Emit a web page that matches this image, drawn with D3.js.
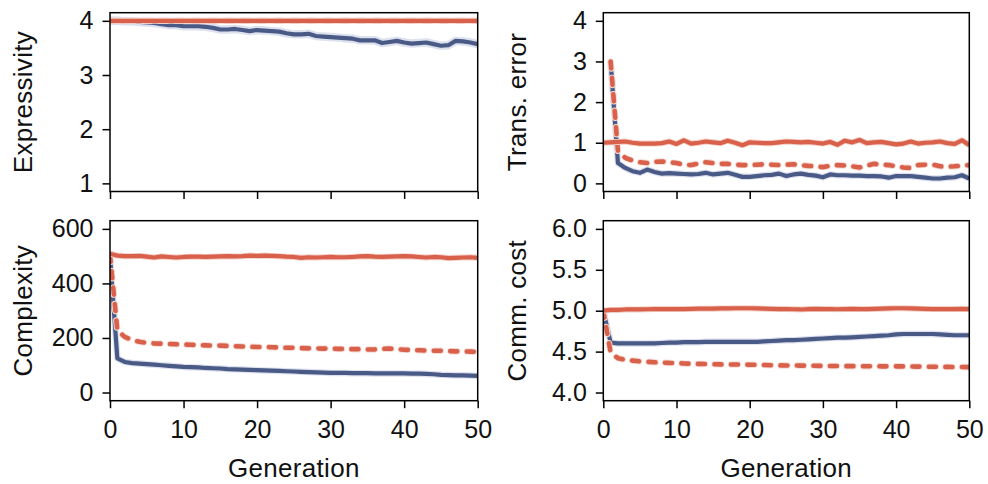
<!DOCTYPE html>
<html><head><meta charset="utf-8">
<script src="https://cdn.jsdelivr.net/npm/d3@7"></script>
<style>
html,body{margin:0;padding:0;background:#fff;}
text{font-family:"Liberation Sans","Helvetica Neue",Helvetica,Arial,sans-serif;fill:#111;}
</style></head>
<body><svg id="c" width="988" height="484"></svg>
<script>
const generations = d3.range(0, 51);
const xTicks = [0, 10, 20, 30, 40, 50];

// Expressivity
const exprBlue = [4.00,4.00,3.99,3.99,3.98,3.97,3.96,3.94,3.92,3.92,3.90,3.90,3.90,3.89,3.87,3.84,3.84,3.85,3.83,3.81,3.83,3.82,3.81,3.80,3.77,3.75,3.75,3.76,3.72,3.71,3.70,3.69,3.68,3.67,3.64,3.64,3.64,3.59,3.61,3.63,3.60,3.58,3.59,3.60,3.57,3.54,3.55,3.63,3.62,3.60,3.57];
const exprRed = [4,4,4,4,4,4,4,4,4,4,4,4,4,4,4,4,4,4,4,4,4,4,4,4,4,4,4,4,4,4,4,4,4,4,4,4,4,4,4,4,4,4,4,4,4,4,4,4,4,4,4];
const exprRedDash = [4,4,4,4,4,4,4,4,4,4,4,4,4,4,4,4,4,4,4,4,4,4,4,4,4,4,4,4,4,4,4,4,4,4,4,4,4,4,4,4,4,4,4,4,4,4,4,4,4,4,4];
const exprTicks = [1, 2, 3, 4];

// Transmission error
const transBlue = [null,3.00,0.50,0.38,0.30,0.26,0.34,0.28,0.24,0.25,0.24,0.23,0.22,0.23,0.26,0.22,0.24,0.26,0.21,0.16,0.16,0.18,0.20,0.21,0.24,0.18,0.22,0.24,0.21,0.19,0.15,0.22,0.20,0.20,0.19,0.19,0.18,0.18,0.17,0.14,0.18,0.18,0.18,0.16,0.14,0.12,0.12,0.14,0.15,0.20,0.12];
const transRed = [1.00,1.01,1.02,1.03,1.00,0.98,0.98,0.98,0.99,1.03,0.97,1.06,0.98,1.00,1.03,1.01,0.99,1.05,1.00,0.94,1.01,1.00,0.99,0.99,1.01,1.03,1.02,1.01,1.02,1.00,0.98,1.02,0.95,1.05,1.01,1.07,0.99,1.01,1.02,0.99,0.96,0.98,1.03,0.98,1.00,1.01,1.03,0.99,0.97,1.06,0.94];
const transRedDash = [null,3.00,0.79,0.63,0.56,0.52,0.50,0.53,0.54,0.52,0.50,0.46,0.45,0.49,0.52,0.50,0.48,0.48,0.46,0.45,0.45,0.46,0.47,0.46,0.45,0.46,0.47,0.45,0.43,0.42,0.40,0.43,0.45,0.44,0.42,0.39,0.44,0.48,0.46,0.45,0.42,0.39,0.38,0.45,0.46,0.46,0.42,0.41,0.42,0.44,0.45];
const transTicks = [0, 1, 2, 3, 4];

// Complexity
const complBlue = [500,125,112,108,106,104,102,100,98,96,94,93,92,90,89,88,86,85,84,83,82,81,80,79,78,77,76,75,74,73,72,72,72,71,71,71,70,70,70,70,70,69,69,68,67,65,64,63,63,62,61];
const complRed = [509,502,500,500,501,498,495,499,497,495,497,498,498,497,498,499,500,499,500,502,501,502,501,500,498,497,494,496,495,496,497,496,496,497,499,500,498,497,498,499,500,499,497,495,497,496,493,494,495,496,494];
const complRedDash = [505,228,204,192,186,182,180,179,178,177,176,175,174,173,172,172,171,170,169,168,167,167,166,165,164,164,163,162,162,161,161,160,160,159,159,158,158,160,161,159,157,156,155,154,153,153,152,151,151,150,149];
const complTicks = [0, 200, 400, 600];

// Communicative cost
const costBlue = [5.00,4.61,4.60,4.60,4.60,4.60,4.60,4.60,4.605,4.61,4.61,4.615,4.615,4.615,4.62,4.62,4.62,4.62,4.62,4.62,4.62,4.62,4.625,4.63,4.635,4.64,4.64,4.645,4.65,4.655,4.66,4.665,4.67,4.67,4.675,4.68,4.685,4.69,4.695,4.70,4.71,4.715,4.715,4.715,4.715,4.715,4.71,4.705,4.70,4.70,4.70];
const costRed = [5.00,5.01,5.01,5.015,5.015,5.016,5.018,5.02,5.02,5.02,5.02,5.02,5.022,5.025,5.025,5.025,5.028,5.028,5.03,5.03,5.03,5.028,5.025,5.022,5.02,5.02,5.018,5.015,5.02,5.022,5.02,5.02,5.018,5.02,5.022,5.02,5.02,5.022,5.025,5.028,5.03,5.03,5.028,5.025,5.022,5.02,5.02,5.02,5.02,5.022,5.02];
const costRedDash = [5.00,4.49,4.42,4.40,4.39,4.38,4.375,4.37,4.366,4.362,4.36,4.355,4.352,4.35,4.348,4.345,4.344,4.343,4.342,4.341,4.34,4.338,4.336,4.334,4.332,4.33,4.33,4.329,4.328,4.327,4.325,4.325,4.324,4.323,4.322,4.322,4.321,4.321,4.32,4.32,4.32,4.319,4.318,4.317,4.316,4.315,4.314,4.313,4.312,4.311,4.31];
const costTicks = [4.0, 4.5, 5.0, 5.5, 6.0];

const BLUE = "#4a5a87", RED = "#d9604a";

const panels = [
  {x0:110, x1:477.7, y0:12.7, y1:191.5, dom:[0.85,4.15], ticks:exprTicks, fmt:d3.format("d"), label:"Expressivity", lx:32, blue:exprBlue, red:exprRed, dash:exprRedDash, xlabels:false, halo:true},
  {x0:603.3, x1:969.3, y0:12.7, y1:191.5, dom:[-0.2,4.2], ticks:transTicks, fmt:d3.format("d"), label:"Trans. error", lx:526, blue:transBlue, red:transRed, dash:transRedDash, xlabels:false, halo:false},
  {x0:110, x1:477.7, y0:220.7, y1:400.7, dom:[-30,630], ticks:complTicks, fmt:d3.format("d"), label:"Complexity", lx:32, blue:complBlue, red:complRed, dash:complRedDash, xlabels:true, halo:false},
  {x0:603.3, x1:969.3, y0:220.7, y1:400.7, dom:[3.9,6.1], ticks:costTicks, fmt:d3.format(".1f"), label:"Comm. cost", lx:526, blue:costBlue, red:costRed, dash:costRedDash, xlabels:true, halo:false}
];

const svg = d3.select("#c");
const FS = 25, LFS = 26;
const FF = '"Liberation Sans",Helvetica,Arial,sans-serif';

panels.forEach((p, i) => {
  const x = d3.scaleLinear().domain([0,50]).range([p.x0, p.x1]);
  const y = d3.scaleLinear().domain(p.dom).range([p.y1, p.y0]);
  const clipId = "clip" + i;
  svg.append("clipPath").attr("id", clipId).append("rect")
    .attr("x", p.x0).attr("y", p.y0).attr("width", p.x1 - p.x0).attr("height", p.y1 - p.y0);
  const g = svg.append("g").attr("clip-path", `url(#${clipId})`);
  const line = arr => d3.line().defined(d => arr[d] !== null).x(d => x(d)).y(d => y(arr[d]))(generations);

  g.append("path").attr("d", line(p.blue)).attr("fill","none")
    .attr("stroke", "#dde1ee").attr("stroke-width", p.halo ? 8.5 : 6.5).attr("stroke-linejoin","round");
  g.append("path").attr("d", line(p.blue)).attr("fill","none")
    .attr("stroke", BLUE).attr("stroke-width", 4.2).attr("stroke-linejoin","round");
  g.append("path").attr("d", line(p.dash)).attr("fill","none")
    .attr("stroke", "#f6ddd6").attr("stroke-width", 6.5).attr("stroke-linejoin","round")
    .attr("stroke-linecap","round").attr("stroke-dasharray","7,9.5");
  g.append("path").attr("d", line(p.dash)).attr("fill","none")
    .attr("stroke", RED).attr("stroke-width", 4.6).attr("stroke-linejoin","round")
    .attr("stroke-linecap","round").attr("stroke-dasharray","7,9.5");
  g.append("path").attr("d", line(p.red)).attr("fill","none")
    .attr("stroke", "#f3d0c8").attr("stroke-width", 6).attr("stroke-linejoin","round");
  g.append("path").attr("d", line(p.red)).attr("fill","none")
    .attr("stroke", RED).attr("stroke-width", 4.2).attr("stroke-linejoin","round");

  svg.append("rect").attr("x", p.x0).attr("y", p.y0).attr("width", p.x1 - p.x0).attr("height", p.y1 - p.y0)
    .attr("fill","none").attr("stroke","#000").attr("stroke-width",1.5);

  const ya = d3.axisLeft(y).tickValues(p.ticks).tickFormat(p.fmt).tickSize(7.5).tickPadding(9);
  const yg = svg.append("g").attr("transform", `translate(${p.x0},0)`).call(ya);
  yg.select(".domain").remove();
  yg.selectAll("line").attr("stroke","#000").attr("stroke-width",1.5);
  yg.selectAll("text").attr("font-size", FS).attr("fill","#111").style("font-family", FF);

  const xa = d3.axisBottom(x).tickValues(xTicks).tickSize(7.5).tickPadding(12)
    .tickFormat(p.xlabels ? d3.format("d") : () => "");
  const xg = svg.append("g").attr("transform", `translate(0,${p.y1})`).call(xa);
  xg.select(".domain").remove();
  xg.selectAll("line").attr("stroke","#000").attr("stroke-width",1.5);
  xg.selectAll("text").attr("font-size", FS).attr("fill","#111").style("font-family", FF);

  svg.append("text").attr("transform", `translate(${p.lx},${(p.y0+p.y1)/2}) rotate(-90)`)
    .attr("text-anchor","middle").attr("font-size", LFS).style("letter-spacing","0.3px").text(p.label);
  if (p.xlabels) {
    svg.append("text").attr("x", (p.x0+p.x1)/2).attr("y", 477)
      .attr("text-anchor","middle").attr("font-size", LFS).style("letter-spacing","0.3px").text("Generation");
  }
});
</script></body></html>
